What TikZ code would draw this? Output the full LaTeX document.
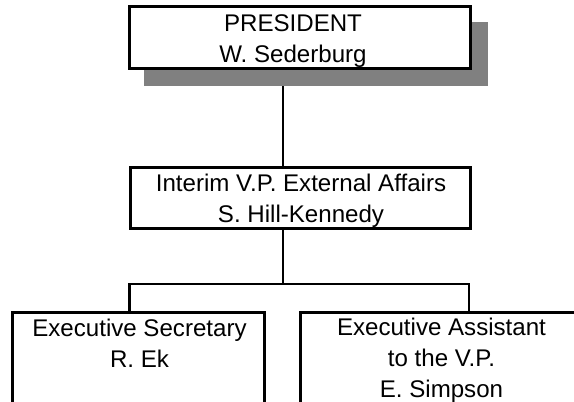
\documentclass[tikz,border=0pt]{standalone}
\usepackage{fontspec}
\setmainfont{Liberation Sans}
\usetikzlibrary{calc}
\pgfdeclarelayer{bg}
\pgfsetlayers{bg,main}
\tikzset{
  box/.style={draw=black, line width=3pt, fill=white, rectangle, inner sep=0pt},
  conn/.style={draw=black, line width=2.5pt},
  txt/.style={align=center, inner sep=0pt, anchor=base, font=\fontsize{24.1}{31}\selectfont},
  shade/.style={fill=black!50}
}
\begin{document}
\begin{tikzpicture}[x=1pt, y=-1pt]
\useasboundingbox (0,0) rectangle (574,402);
\clip (0,0) rectangle (574,402);
% boxes
\node[box, minimum width=341pt, minimum height=61.5pt] (pres) at (299.5,37.25) {};
\node[box, minimum width=340.7pt, minimum height=61pt] (int) at (300.4,198) {};
\node[box, minimum width=251.5pt, minimum height=117.5pt] (lbox) at (138.25,371.25) {};
\node[box, minimum width=283pt, minimum height=117.5pt] (rbox) at (441.5,371.25) {};
% texts (base anchor = baseline of the last line)
\node[txt] (presT) at (293,62.7) {PRESIDENT\\W. Sederburg};
\node[txt] (intT) at (301,222.2) {Interim V.P. External Affairs\\S. Hill-Kennedy};
\node[txt] (lT) at (139.5,367.5) {Executive Secretary\\R. Ek};
\node[txt] (rT) at (441.5,397.5) {Executive Assistant\\to the V.P.\\E. Simpson};
% connectors
\coordinate (bus) at (283,284);
\coordinate (busL) at (129.5,284);
\coordinate (busR) at (469,284);
\begin{pgfonlayer}{bg}
\fill[white] (0,0) rectangle (574,402);
\draw[conn] (pres.south -| bus) -- (int.north -| bus);
\draw[conn] (int.south -| bus) -- (bus);
\draw[conn] (busL |- lbox.north) -- (busL) -- (busR) -- (busR |- rbox.north);
\fill[shade] ($(pres.south west)+(16,16.5)$) rectangle ($(pres.north east)+(16,16.5)$);
\end{pgfonlayer}
\end{tikzpicture}
\end{document}
